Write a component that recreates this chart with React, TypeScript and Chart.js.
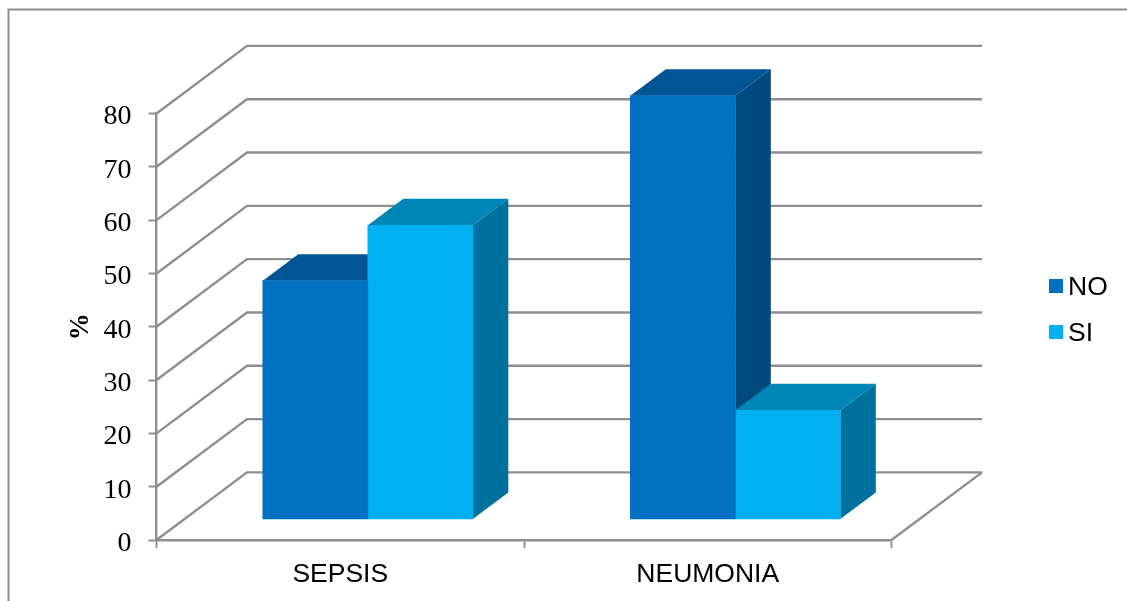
import React, { useEffect, useRef } from "react";
import { Chart, registerables } from "chart.js";

Chart.register(...registerables);

const categories = ["SEPSIS", "NEUMONIA"];
const seriesNames = ["NO", "SI"];
const noValues = [44.7, 79.4];
const siValues = [55.1, 20.4];
const yMax = 80;
const yStep = 10;

const frontColors = ["#0070C0", "#00B0F0"];
const topColors = ["#005596", "#0086B6"];
const sideColors = ["#004A80", "#00719E"];
const lineColor = "#8E8E8E";

// Projection of the 3D box: how far the back wall and the bars recede.
const wallDepth = { x: 90.5, y: -67.6 };
const barDepth = { x: 35.5, y: -26.5 };
// Bars stand on the middle of the floor, so their baseline sits above the front edge.
const floorInset = 3.94;
const barShift = 0.075;
const barThickness = 105;

const box3d = {
  id: "box3d",
  beforeDraw(chart: any) {
    const { ctx } = chart;
    ctx.save();
    ctx.strokeStyle = lineColor;
    ctx.lineWidth = 2;
    // outer frame of the figure
    ctx.beginPath();
    ctx.moveTo(8.5, 601);
    ctx.lineTo(8.5, 9.5);
    ctx.lineTo(1127, 9.5);
    ctx.stroke();
    ctx.restore();
  },
  beforeDatasetsDraw(chart: any) {
    const { ctx, chartArea, scales } = chart;
    const yScale = scales.y;
    ctx.save();
    ctx.strokeStyle = lineColor;
    ctx.lineWidth = 2.4;
    ctx.lineJoin = "miter";
    // side-wall and back-wall grid lines
    yScale.ticks.forEach((tick: any) => {
      const py = yScale.getPixelForValue(tick.value);
      ctx.beginPath();
      ctx.moveTo(chartArea.left, py);
      ctx.lineTo(chartArea.left + wallDepth.x, py + wallDepth.y);
      ctx.lineTo(chartArea.right + wallDepth.x, py + wallDepth.y);
      ctx.stroke();
    });
    // right edge of the floor
    ctx.beginPath();
    ctx.moveTo(chartArea.right, chartArea.bottom);
    ctx.lineTo(chartArea.right + wallDepth.x, chartArea.bottom + wallDepth.y);
    ctx.stroke();

    // top and side faces of every bar, the fronts come from the bar elements
    chart.data.datasets.forEach((_: any, di: number) => {
      chart.getDatasetMeta(di).data.forEach((bar: any) => {
        const { x, y, base, width } = bar.getProps(["x", "y", "base", "width"], true);
        const l = x - width / 2;
        const r = x + width / 2;
        ctx.fillStyle = sideColors[di];
        ctx.beginPath();
        ctx.moveTo(r, y);
        ctx.lineTo(r + barDepth.x, y + barDepth.y);
        ctx.lineTo(r + barDepth.x, base + barDepth.y);
        ctx.lineTo(r, base);
        ctx.closePath();
        ctx.fill();
        ctx.fillStyle = topColors[di];
        ctx.beginPath();
        ctx.moveTo(l, y);
        ctx.lineTo(l + barDepth.x, y + barDepth.y);
        ctx.lineTo(r + barDepth.x, y + barDepth.y);
        ctx.lineTo(r, y);
        ctx.closePath();
        ctx.fill();
      });
    });
    ctx.restore();
  },
  afterDraw(chart: any) {
    // legend, placed well clear of the plot box
    const { ctx } = chart;
    ctx.save();
    ctx.font = "26.5px 'Liberation Sans'";
    ctx.textBaseline = "middle";
    ctx.textAlign = "left";
    chart.data.datasets.forEach((ds: any, i: number) => {
      const cy = 286 + i * 46;
      ctx.fillStyle = ds.backgroundColor;
      ctx.fillRect(1049, cy - 7, 14, 14);
      ctx.fillStyle = "#000";
      ctx.fillText(ds.label, 1068, cy + 2);
    });
    ctx.restore();
  },
};

export default function App() {
  const ref = useRef<HTMLCanvasElement>(null);
  useEffect(() => {
    const chart = new Chart(ref.current as HTMLCanvasElement, {
      type: "bar",
      data: {
        labels: categories,
        datasets: [noValues, siValues].map((values, i) => ({
          label: seriesNames[i],
          data: values.map((v, k) => ({ x: k, y: v })),
          backgroundColor: frontColors[i],
          borderWidth: 0,
          xAxisID: "xBars",
          yAxisID: "yBars",
          barThickness,
          clip: false,
        })),
      },
      options: {
        responsive: false,
        animation: false,
        layout: { padding: { left: 0, right: 235.5, top: 113.5, bottom: 0 } },
        plugins: { legend: { display: false }, tooltip: { enabled: false } },
        scales: {
          x: {
            type: "category",
            offset: true,
            grid: {
              offset: true,
              drawOnChartArea: false,
              tickLength: 8,
              tickColor: lineColor,
              tickWidth: 2,
            },
            border: { color: lineColor, width: 2.4 },
            ticks: {
              color: "#000",
              padding: 11,
              font: { family: "'Liberation Sans'", size: 26.5 },
              maxRotation: 0,
            },
            afterFit(scale: any) {
              scale.height = 61;
            },
          },
          y: {
            type: "linear",
            min: 0,
            max: yMax,
            grid: {
              drawOnChartArea: false,
              tickLength: 8,
              tickColor: lineColor,
              tickWidth: 2,
            },
            border: { color: lineColor, width: 2.4 },
            ticks: {
              stepSize: yStep,
              color: "#000",
              padding: 17,
              labelOffset: 3.5,
              font: { family: "'Liberation Serif'", size: 28 },
            },
            title: {
              display: true,
              text: "%",
              color: "#000",
              font: { family: "'Liberation Serif'", size: 27, weight: "bold" },
              padding: { top: 65, bottom: 0 },
            },
            afterFit(scale: any) {
              scale.width = 156.5;
            },
          },
          xBars: {
            type: "linear",
            display: false,
            offset: false,
            min: -0.5 - barShift,
            max: categories.length - 0.5 - barShift,
            grid: { offset: false },
          },
          yBars: {
            type: "linear",
            display: false,
            min: -floorInset,
            max: yMax - floorInset,
          },
        },
      } as any,
      plugins: [box3d],
    });
    return () => chart.destroy();
  }, []);
  return (
    <div style={{ position: "fixed", left: 0, top: 0 }}>
      <canvas ref={ref} width={1127} height={601} style={{ display: "block", background: "#fff" }} />
    </div>
  );
}
